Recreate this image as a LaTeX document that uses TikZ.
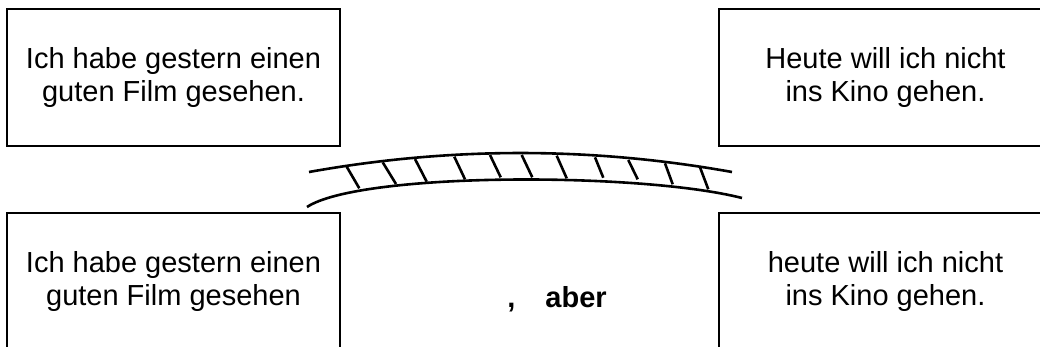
\documentclass[tikz,border=0pt]{standalone}
\usepackage{fontspec}
\setmainfont{Liberation Sans}
\usetikzlibrary{positioning}

\tikzset{
	sentence/.style={draw=black,line width=1pt,minimum width=166.5pt,minimum height=68.5pt,
		inner sep=0pt,align=center,font=\fontsize{14.5pt}{16.5pt}\selectfont},
	plank/.style={draw=black,line width=1.3pt},
}

\begin{document}
\begin{tikzpicture}
		[x=0.5pt,y=-0.5pt,node distance=32.5pt and 188.5pt]
	\useasboundingbox (0,0) rectangle (1040,347);
	\clip (0,0) rectangle (1040,347);
	\node[sentence] (satzA) at (173.5,77.5) {Ich habe gestern einen\\guten Film gesehen.};
	\node[sentence,right=of satzA] (satzB) {Heute will ich nicht\\ins Kino gehen.};
	\node[sentence,below=of satzA] (teilA) {Ich habe gestern einen\\guten Film gesehen};
	\node[sentence,below=of satzB] (teilB) {heute will ich nicht\\ins Kino gehen.};
	\node[anchor=base west,inner sep=0pt,font=\fontsize{14.5pt}{16.5pt}\selectfont\bfseries] (aber) at (507,308) {,\hspace{15pt}aber};
	\draw[plank] (309,172) .. controls (450,146.7) and (591,146.7) .. (732,172);
	\draw[plank] (307,207) .. controls (360,172) and (640,172) .. (742,198);
	\foreach \xa/\ya/\xb/\yb in {346.7/166.7/359.3/188.3, 382.7/162.3/396/184, 415/159/426.7/181.7,
			454.3/156.7/465/179.3, 490/155/500.7/177.3, 521.7/155/532.3/177.3, 556.7/155.7/566.7/178.3,
			595/157.3/603.3/177.7, 628.3/160/637.7/179.3, 665/163.3/672.7/184.3, 700/167.3/708.3/189.3}
		\draw[plank] (\xa,\ya) -- (\xb,\yb);
\end{tikzpicture}
\end{document}
